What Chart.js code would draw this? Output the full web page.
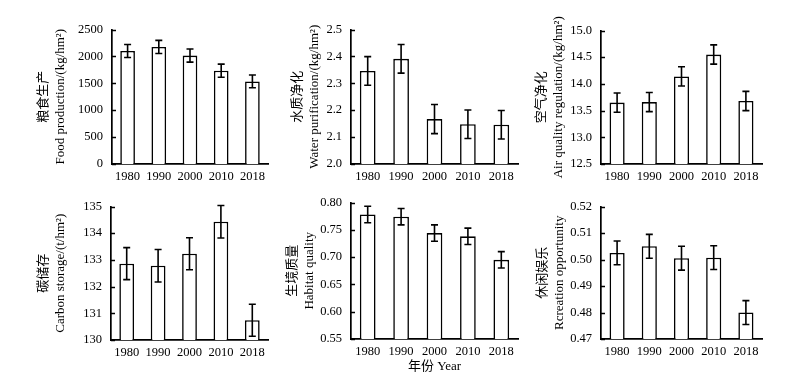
<!DOCTYPE html>
<html>
<head>
<meta charset="utf-8">
<script src="https://cdn.jsdelivr.net/npm/chart.js@4"></script>
<style>
  body { margin: 0; background: #fff; }
  #wrap { position: relative; width: 800px; height: 385px; overflow: hidden; background: #fff; }
  #wrap canvas { position: absolute; }
</style>
</head>
<body>
<div id="wrap"></div>
<script>
const years = ["1980", "1990", "2000", "2010", "2018"];

// 粮食生产
const foodValues = [2100, 2175, 2015, 1735, 1535];
const foodErrors = [120, 122, 122, 122, 118];
// 水质净化
const waterValues = [2.346, 2.391, 2.167, 2.148, 2.146];
const waterErrors = [0.053, 0.053, 0.054, 0.053, 0.053];
// 空气净化
const airValues = [13.65, 13.66, 14.14, 14.55, 13.68];
const airErrors = [0.18, 0.18, 0.18, 0.18, 0.18];
// 碳储存
const carbonValues = [132.86, 132.78, 133.23, 134.43, 130.74];
const carbonErrors = [0.6, 0.61, 0.6, 0.61, 0.6];
// 生境质量
const habitatValues = [0.778, 0.774, 0.744, 0.738, 0.695];
const habitatErrors = [0.015, 0.015, 0.015, 0.015, 0.015];
// 休闲娱乐
const recreationValues = [0.5025, 0.5050, 0.5005, 0.5007, 0.4800];
const recreationErrors = [0.0045, 0.0045, 0.0045, 0.0045, 0.0045];

const serif = "'Liberation Serif', 'Times New Roman', 'Noto Sans CJK SC', serif";

// panel layout: plot area in page px, w = room left of the plot for labels/title
const panels = [
  { values: foodValues, errors: foodErrors, min: 0, max: 2500, step: 500, dec: 0,
    title: ["粮食生产", "Food production/(kg/hm²)"], l: 112, t: 23, r: 268, b: 164, w: 77 },
  { values: waterValues, errors: waterErrors, min: 2.0, max: 2.5, step: 0.1, dec: 1,
    title: ["水质净化", "Water purification/(kg/hm²)"], l: 351, t: 23, r: 518, b: 164, w: 62 },
  { values: airValues, errors: airErrors, min: 12.5, max: 15.0, step: 0.5, dec: 1,
    title: ["空气净化", "Air quality regulation/(kg/hm²)"], l: 601, t: 24, r: 762, b: 164, w: 68 },
  { values: carbonValues, errors: carbonErrors, min: 130, max: 135, step: 1, dec: 0,
    title: ["碳储存", "Carbon storage/(t/hm²)"], l: 111, t: 200, r: 268, b: 340, w: 76 },
  { values: habitatValues, errors: habitatErrors, min: 0.55, max: 0.80, step: 0.05, dec: 2,
    title: ["生境质量", "Habitat quality"], l: 351, t: 196, r: 518, b: 339, w: 67, xTitle: "年份 Year" },
  { values: recreationValues, errors: recreationErrors, min: 0.47, max: 0.52, step: 0.01, dec: 2,
    title: ["休闲娱乐", "Rcreation opportunity"], l: 601, t: 200, r: 762, b: 339, w: 67 }
];

// error bars
const errorBars = {
  id: "errorBars",
  afterDatasetsDraw(chart, args, opts) {
    const ctx = chart.ctx;
    const y = chart.scales.y;
    const meta = chart.getDatasetMeta(0);
    const vals = chart.data.datasets[0].data;
    ctx.save();
    ctx.strokeStyle = "#000";
    ctx.lineWidth = 1.6;
    meta.data.forEach((bar, i) => {
      const top = y.getPixelForValue(vals[i] + opts.errors[i]);
      const bot = y.getPixelForValue(vals[i] - opts.errors[i]);
      ctx.beginPath();
      ctx.moveTo(bar.x, top); ctx.lineTo(bar.x, bot);
      ctx.moveTo(bar.x - 3.5, top); ctx.lineTo(bar.x + 3.5, top);
      ctx.moveTo(bar.x - 3.5, bot); ctx.lineTo(bar.x + 3.5, bot);
      ctx.stroke();
    });
    ctx.restore();
  }
};

// tick marks pointing into the plot
const innerTicks = {
  id: "innerTicks",
  afterDraw(chart) {
    const ctx = chart.ctx;
    const y = chart.scales.y;
    ctx.save();
    ctx.strokeStyle = "#000";
    ctx.lineWidth = 1.5;
    y.ticks.forEach((t, i) => {
      const py = Math.round(y.getPixelForTick(i)) + 0.5;
      ctx.beginPath();
      ctx.moveTo(y.right, py);
      ctx.lineTo(y.right + 4, py);
      ctx.stroke();
    });
    ctx.restore();
  }
};

const wrap = document.getElementById("wrap");

panels.forEach(p => {
  const canvas = document.createElement("canvas");
  const cw = p.w + (p.r - p.l) + 4;
  const ch = 10 + (p.b - p.t) + 36;
  canvas.width = cw;
  canvas.height = ch;
  canvas.style.left = (p.l - p.w) + "px";
  canvas.style.top = (p.t - 10) + "px";
  canvas.style.width = cw + "px";
  canvas.style.height = ch + "px";
  wrap.appendChild(canvas);

  new Chart(canvas, {
    type: "bar",
    data: {
      labels: years,
      datasets: [{
        data: p.values,
        backgroundColor: "#fff",
        borderColor: "#000",
        borderWidth: 1.6,
        barPercentage: 0.47,
        categoryPercentage: 1
      }]
    },
    options: {
      responsive: false,
      animation: false,
      devicePixelRatio: 1,
      layout: { padding: { top: 10, right: 4, bottom: 0, left: 0 } },
      plugins: {
        legend: { display: false },
        tooltip: { enabled: false },
        errorBars: { errors: p.errors }
      },
      scales: {
        x: {
          grid: { display: false, drawTicks: false },
          border: { color: "#000", width: 1.7 },
          ticks: {
            color: "#000",
            font: { family: serif, size: 12.5 },
            padding: 5,
            autoSkip: false,
            maxRotation: 0,
            minRotation: 0
          },
          title: {
            display: !!p.xTitle,
            text: p.xTitle || "",
            color: "#000",
            font: { family: serif, size: 13, lineHeight: 1.3 },
            padding: { top: 0, bottom: 0 }
          },
          afterFit(scale) { scale.height = 36; }
        },
        y: {
          min: p.min,
          max: p.max,
          grid: { display: false, drawTicks: false },
          border: { color: "#000", width: 1.7 },
          ticks: {
            stepSize: p.step,
            color: "#000",
            font: { family: serif, size: 12.5 },
            padding: 9,
            callback: v => Number(v).toFixed(p.dec)
          },
          title: {
            display: true,
            text: p.title,
            color: "#000",
            font: { family: serif, size: 13, lineHeight: 1.3 },
            padding: { top: 0, bottom: 0 }
          },
          afterFit(scale) { scale.width = p.w; }
        }
      }
    },
    plugins: [errorBars, innerTicks]
  });
});
</script>
</body>
</html>
